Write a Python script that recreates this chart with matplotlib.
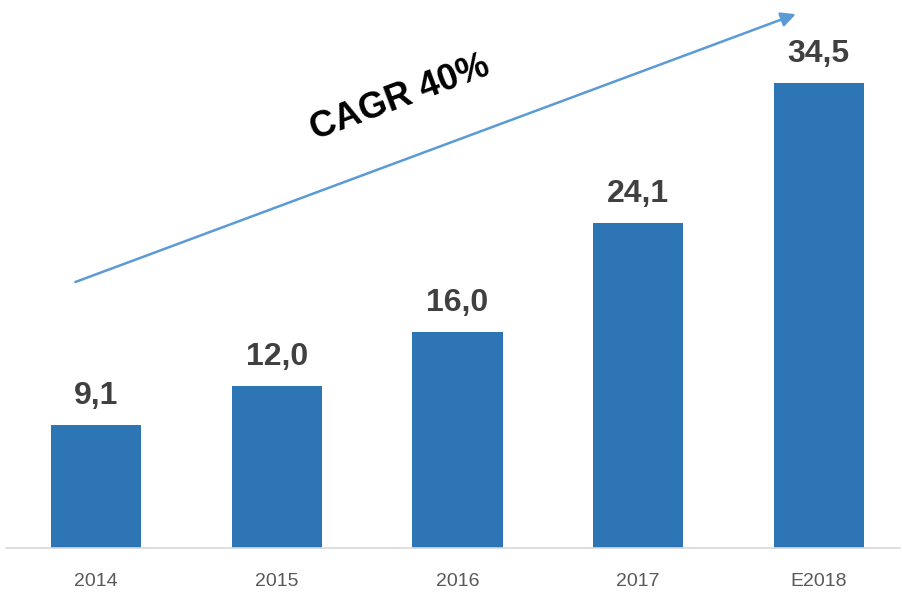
import matplotlib.pyplot as plt

plt.rcParams['font.family'] = ['Liberation Sans', 'DejaVu Sans']

years = ['2014', '2015', '2016', '2017', 'E2018']
values = [9.1, 12.0, 16.0, 24.1, 34.5]
labels = ['9,1', '12,0', '16,0', '24,1', '34,5']

fig = plt.figure(figsize=(9.02, 5.92), dpi=100)
ax = fig.add_axes([6 / 902, 44 / 592, 894 / 902, 548 / 592])

x = range(len(years))
ax.bar(x, values, width=0.5, color='#2E75B6', zorder=2)

for xi, v, lab in zip(x, values, labels):
    ax.annotate(lab, (xi, v), xytext=(0, 15), textcoords='offset points',
                ha='center', va='baseline', fontsize=23, fontweight='bold',
                color='#404040')

ax.set_xlim(-0.5, 4.45)
ax.set_ylim(0, 40.65)
ax.set_xticks(list(x))
ax.set_xticklabels(years, fontsize=14, color='#595959')
ax.tick_params(axis='x', length=0, pad=18)
ax.set_yticks([])
for s in ['top', 'right', 'left']:
    ax.spines[s].set_visible(False)
ax.spines['bottom'].set_color('#D9D9D9')
ax.spines['bottom'].set_linewidth(1.2)

# CAGR arrow
ax.annotate('', xy=(3.873, 39.6), xytext=(-0.116, 19.73),
            arrowprops=dict(arrowstyle='-|>', color='#5B9BD5', lw=1.8,
                            mutation_scale=22, shrinkA=0, shrinkB=0),
            annotation_clip=False)
ax.text(1.684, 33.4, 'CAGR 40%', rotation=20.5, rotation_mode='anchor',
        ha='center', va='center', fontsize=26, fontweight='bold', color='black')

fig.savefig('out.png', dpi=100)
